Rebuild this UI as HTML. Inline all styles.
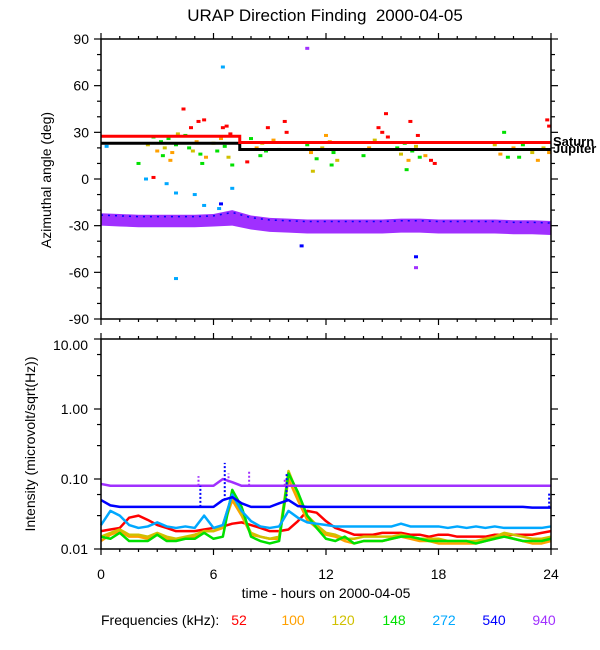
<!DOCTYPE html>
<html><head><meta charset="utf-8"><style>
html,body{margin:0;padding:0;background:#fff;}
svg{display:block;font-family:"Liberation Sans",sans-serif;}
</style></head><body>
<svg id="chart" width="600" height="650" viewBox="0 0 600 650" xmlns="http://www.w3.org/2000/svg">
<text x="325" y="21" font-size="17" text-anchor="middle" xml:space="preserve">URAP Direction Finding  2000-04-05</text>
<g id="topPanel"></g>
<g id="botPanel"></g>
<text transform="translate(51,180) rotate(-90)" font-size="14" text-anchor="middle">Azimuthal angle (deg)</text>
<text transform="translate(35,444) rotate(-90)" font-size="14" text-anchor="middle">Intensity (microvolt/sqrt(Hz))</text>
<text x="326" y="598" font-size="14" text-anchor="middle">time - hours on 2000-04-05</text>
<g font-size="14">
<text x="101" y="625">Frequencies (kHz):</text>
<text x="239" y="625" fill="#ff0000" text-anchor="middle">52</text>
<text x="293" y="625" fill="#ffa000" text-anchor="middle">100</text>
<text x="343" y="625" fill="#d0c000" text-anchor="middle">120</text>
<text x="394" y="625" fill="#00e000" text-anchor="middle">148</text>
<text x="444" y="625" fill="#00a8ff" text-anchor="middle">272</text>
<text x="494" y="625" fill="#0000ff" text-anchor="middle">540</text>
<text x="544" y="625" fill="#a030ff" text-anchor="middle">940</text>
</g>
</svg>
<script>
const colors=["#ff0000","#ffa000","#d0c000","#00e000","#00a8ff","#0000ff","#a030ff"];
const freqNames=["52","100","120","148","272","540","940"];
const xTicks=[0,6,12,18,24];
const azTicks=[90,60,30,0,-30,-60,-90];
const intTicks=[10,1,0.1,0.01];
const intTickLabels=["10.00","1.00","0.10","0.01"];
const saturnHours=[0,7.4,7.4,24];
const saturnDeg=[27.5,27.5,23.5,23.5];
const jupiterHours=[0,7.4,7.4,24];
const jupiterDeg=[23,23,19,19];
const bandHours=[0,1,2,3,4,5,6,7,8,9,10,11,12,13,14,15,16,17,18,19,20,21,22,23,24];
const bandCenter=[-26,-26.5,-27,-27,-27,-27,-26.5,-25,-28,-29.5,-30,-30.5,-30.5,-30.5,-30.5,-30.5,-30,-30,-30.5,-30.5,-30.5,-30.5,-31,-31,-31.5];
const bandHalf=[4,4,4,4,4,4,4,5,4.5,4.5,4.5,4.5,4.5,4.5,4.5,4.5,4.5,4.5,4.5,4.5,4.5,4.5,4.5,4.5,4.5];
const azPoints=[
[0.3,21,4],[2,10,3],[2.8,1,0],[2.4,0,4],[3.5,-3,4],[5.5,-17,4],[6.3,-19,4],[6.4,-16,5],
[2.5,22,2],[2.8,27,3],[3,18,1],[3.2,24,3],[3.4,20,2],[3.6,26,3],[3.8,17,1],[4,22,3],[4.1,29,2],[3.3,15,3],[3.7,12,1],
[4.5,28,3],[4.7,20,3],[4.9,18,2],[5.1,24,1],[5.3,16,3],[4.8,33,0],[5.2,37,0],[5.5,38,0],[4.4,45,0],[5.6,14,1],[5.4,10,3],
[6,23,2],[6.2,18,3],[6.4,26,1],[6.6,21,3],[6.8,14,2],[6.5,33,0],[6.7,34,0],[6.9,29,0],[7,9,3],
[8,26,3],[8.3,20,1],[8.6,23,2],[8.8,18,3],[9.2,25,1],[9.5,19,3],[8.9,33,0],[9.8,37,0],[9.9,30,0],[7.8,11,0],[8.5,15,3],
[11,22,3],[11.2,17,1],[11.5,13,3],[11.8,20,2],[12.2,24,1],[12.4,17,3],[12.6,12,2],[12.3,9,3],[11.3,5,2],[12,28,1],
[14,15,3],[14.3,20,1],[14.6,25,2],[15,30,0],[15.3,27,0],[14.8,33,0],[15.2,42,0],
[15.8,20,3],[16,16,2],[16.2,23,3],[16.4,12,1],[16.6,18,3],[16.8,21,2],[17,14,3],[16.5,37,0],[16.9,28,0],[17.3,15,1],[17.6,12,0],[17.8,10,0],[16.3,6,3],
[21,22,2],[21.3,16,1],[21.5,30,3],[21.7,14,3],[22,20,1],[22.3,14,3],[22.5,22,3],[23,17,2],[23.3,12,1],[23.6,20,2],[23.9,17,1],[23.8,38,0],[23.9,34,0],
[4,-64,4],[10.7,-43,5],[16.8,-50,5],[16.8,-57,6],[11,84,6],[6.5,72,4],[4,-9,4],[5,-10,4],[7,-6,4]
];
const timeHours=[0,0.5,1,1.5,2,2.5,3,3.5,4,4.5,5,5.5,6,6.5,7,7.5,8,8.5,9,9.5,10,10.5,11,11.5,12,12.5,13,13.5,14,14.5,15,15.5,16,16.5,17,17.5,18,18.5,19,19.5,20,20.5,21,21.5,22,22.5,23,23.5,24];
const int52=[0.018,0.019,0.02,0.028,0.03,0.026,0.022,0.02,0.018,0.018,0.018,0.019,0.02,0.021,0.023,0.024,0.022,0.02,0.018,0.018,0.019,0.025,0.035,0.033,0.025,0.02,0.018,0.016,0.016,0.016,0.017,0.017,0.017,0.016,0.016,0.015,0.016,0.016,0.015,0.015,0.015,0.015,0.016,0.016,0.016,0.016,0.016,0.017,0.018];
const int100=[0.013,0.016,0.018,0.015,0.015,0.014,0.016,0.014,0.014,0.014,0.015,0.018,0.018,0.02,0.05,0.03,0.016,0.015,0.014,0.014,0.1,0.05,0.026,0.02,0.016,0.015,0.013,0.012,0.013,0.013,0.013,0.014,0.015,0.014,0.013,0.013,0.012,0.012,0.012,0.012,0.012,0.013,0.014,0.016,0.014,0.013,0.012,0.012,0.013];
const int120=[0.015,0.017,0.019,0.016,0.016,0.015,0.017,0.015,0.014,0.015,0.016,0.018,0.018,0.022,0.06,0.032,0.017,0.015,0.014,0.015,0.13,0.06,0.03,0.022,0.017,0.016,0.014,0.014,0.015,0.015,0.015,0.015,0.016,0.015,0.014,0.014,0.014,0.013,0.013,0.013,0.013,0.014,0.015,0.017,0.016,0.015,0.014,0.014,0.015];
const int148=[0.015,0.014,0.017,0.013,0.013,0.013,0.016,0.013,0.013,0.014,0.014,0.017,0.014,0.015,0.07,0.04,0.015,0.013,0.012,0.013,0.12,0.065,0.03,0.02,0.014,0.013,0.015,0.012,0.013,0.013,0.013,0.014,0.015,0.015,0.014,0.013,0.013,0.013,0.013,0.013,0.012,0.013,0.014,0.015,0.014,0.013,0.013,0.013,0.014];
const int272=[0.022,0.035,0.03,0.022,0.02,0.021,0.024,0.021,0.02,0.021,0.02,0.03,0.02,0.022,0.06,0.035,0.025,0.021,0.02,0.021,0.035,0.028,0.024,0.023,0.022,0.021,0.021,0.021,0.021,0.021,0.021,0.021,0.023,0.021,0.021,0.021,0.021,0.02,0.021,0.02,0.021,0.02,0.021,0.02,0.02,0.02,0.02,0.02,0.021];
const int540=[0.05,0.042,0.04,0.04,0.04,0.04,0.04,0.04,0.04,0.04,0.04,0.04,0.04,0.05,0.055,0.045,0.04,0.04,0.04,0.045,0.05,0.041,0.04,0.04,0.04,0.04,0.04,0.04,0.04,0.04,0.04,0.04,0.04,0.04,0.04,0.04,0.04,0.04,0.04,0.04,0.04,0.04,0.04,0.04,0.04,0.04,0.039,0.039,0.039];
const int940=[0.085,0.08,0.08,0.08,0.08,0.08,0.08,0.08,0.08,0.08,0.08,0.08,0.08,0.1,0.09,0.08,0.08,0.08,0.08,0.08,0.08,0.08,0.08,0.08,0.08,0.08,0.08,0.08,0.08,0.08,0.08,0.08,0.08,0.08,0.08,0.08,0.08,0.08,0.08,0.08,0.08,0.08,0.08,0.08,0.08,0.08,0.08,0.08,0.08];
const spikeHours=[5.2,5.3,6.6,6.8,7.9,9.8,9.9,23.9];
const spikeTop=[0.11,0.08,0.17,0.12,0.13,0.1,0.12,0.065];
const spikeSeries=[6,5,5,6,6,6,5,5];

const NS="http://www.w3.org/2000/svg";
const X0=101,X1=551,T0=39,T1=319,B0=339,B1=549;
const xs=h=>X0+(X1-X0)*h/24;
const ya=d=>T0+(90-d)*(T1-T0)/180;
const yl=v=>B1-(Math.log10(v)+2)*(B1-B0)/3;
function mk(p,tag,at){const e=document.createElementNS(NS,tag);for(const k in at)e.setAttribute(k,at[k]);p.appendChild(e);return e;}
const topG=document.getElementById('topPanel'),botG=document.getElementById('botPanel');

let pts=[];
bandHours.forEach((h,i)=>pts.push(xs(h)+','+ya(bandCenter[i]+bandHalf[i])));
for(let i=bandHours.length-1;i>=0;i--)pts.push(xs(bandHours[i])+','+ya(bandCenter[i]-bandHalf[i]));
let band=mk(topG,'polygon',{points:pts.join(' '),fill:'#a030ff'});


let bl=mk(topG,'polyline',{points:bandHours.map((h,i)=>xs(h)+','+ya(bandCenter[i]+bandHalf[i]*0.7)).join(' '),fill:'none',stroke:'#0000ff','stroke-width':1.5,'stroke-dasharray':'2 5'});


azPoints.forEach(p=>{
 const r=mk(topG,'rect',{x:xs(p[0])-2,y:ya(p[1])-1.5,width:4,height:3,fill:colors[p[2]]});
 
 
});
function step(hs,ds,col,name){
 const l=mk(topG,'polyline',{points:hs.map((h,i)=>xs(h)+','+ya(ds[i])).join(' '),fill:'none',stroke:col,'stroke-width':3});
 
 
}
step(jupiterHours,jupiterDeg,'#000','jupiter-line');
step(saturnHours,saturnDeg,'#ff0000','saturn-line');
let st=mk(topG,'text',{x:553,y:146,'font-size':13,'font-weight':'bold'});st.textContent='Saturn';


let jt=mk(topG,'text',{x:553,y:153,'font-size':13,'font-weight':'bold'});jt.textContent='Jupiter';



const series=[int52,int100,int120,int148,int272,int540,int940];
series.forEach((s,k)=>{
 const l=mk(botG,'polyline',{points:timeHours.map((h,i)=>xs(h)+','+yl(s[i])).join(' '),fill:'none',stroke:colors[k],'stroke-width':2.5,'stroke-linejoin':'round'});
 
 
});
spikeHours.forEach((h,i)=>{
 const base=series[spikeSeries[i]][Math.round(h*2)];
 const l=mk(botG,'line',{x1:xs(h),x2:xs(h),y1:yl(base),y2:yl(spikeTop[i]),stroke:colors[spikeSeries[i]],'stroke-width':2,'stroke-dasharray':'2 2'});
 
 
});

function frame(g,y0,y1,name){
 const r=mk(g,'rect',{x:X0,y:y0,width:X1-X0,height:y1-y0,fill:'none',stroke:'#000','stroke-width':1.5});
 
 
 for(let h=0;h<=24;h++){
  const len=h%6==0?6:3;
  mk(g,'line',{x1:xs(h),x2:xs(h),y1:y0,y2:y0-len,stroke:'#000','stroke-width':1.2});
  mk(g,'line',{x1:xs(h),x2:xs(h),y1:y1,y2:y1+len,stroke:'#000','stroke-width':1.2});
 }
}
frame(topG,T0,T1,'azimuth-plot-frame');
frame(botG,B0,B1,'intensity-plot-frame');
for(let d=-90;d<=90;d+=10){
 const len=d%30==0?7:4;
 mk(topG,'line',{x1:X0,x2:X0-len,y1:ya(d),y2:ya(d),stroke:'#000','stroke-width':1.2});
 mk(topG,'line',{x1:X1,x2:X1+len,y1:ya(d),y2:ya(d),stroke:'#000','stroke-width':1.2});
}
azTicks.forEach(d=>{
 const t=mk(topG,'text',{x:X0-12,y:ya(d)+5,'font-size':14,'text-anchor':'end'});t.textContent=d;
 
 
});
[0.01,0.1,1,10].forEach(v=>{
 mk(botG,'line',{x1:X0,x2:X0-7,y1:yl(v),y2:yl(v),stroke:'#000','stroke-width':1.2});
 mk(botG,'line',{x1:X1,x2:X1+7,y1:yl(v),y2:yl(v),stroke:'#000','stroke-width':1.2});
 if(v<10)[3,6].forEach(m=>{const y=yl(v*m);
  mk(botG,'line',{x1:X0,x2:X0-4,y1:y,y2:y,stroke:'#000','stroke-width':1.2});
  mk(botG,'line',{x1:X1,x2:X1+4,y1:y,y2:y,stroke:'#000','stroke-width':1.2});});
});
intTicks.forEach((v,i)=>{
 const t=mk(botG,'text',{x:X0-13,y:yl(v)+(i==0?11:5),'font-size':14,'text-anchor':'end'});t.textContent=intTickLabels[i];
 
 
});
xTicks.forEach(h=>{
 const t=mk(botG,'text',{x:xs(h),y:579,'font-size':14,'text-anchor':'middle'});t.textContent=h;
 
 
});
</script>
</body></html>
